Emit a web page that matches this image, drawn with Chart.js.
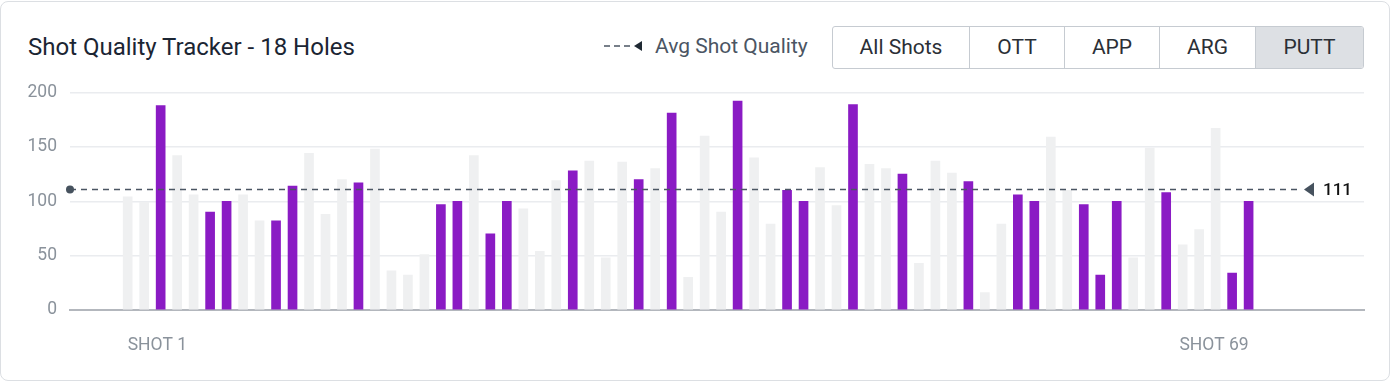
<!DOCTYPE html>
<html lang="en">
<head>
  <meta charset="utf-8">
  <title>Shot Quality Tracker</title>
  <style type="text/css">
    html, body {
      margin: 0;
      padding: 0;
      background: #ffffff;
      font-family: 'Roboto', 'Noto Sans', sans-serif;
    }
    .card {
      position: absolute;
      left: 0;
      top: 1px;
      width: 1388px;
      height: 378px;
      border: 1px solid #dcdfe3;
      border-radius: 8px;
      overflow: hidden;
    }
    .title {
      position: absolute;
      left: 27px;
      top: 30px;
      font-size: 24px;
      color: #1b2533;
      line-height: 30px;
    }
    .legend {
      position: absolute;
      left: 602px;
      top: 30px;
      font-size: 21px;
      color: #4b5563;
      line-height: 28px;
    }
    .legend svg {
      vertical-align: middle;
      margin-right: 13px;
      margin-top: -3px;
    }
    .btns {
      position: absolute;
      left: 831px;
      top: 24px;
      display: flex;
      border: 1px solid #c6cbd1;
      border-radius: 3px;
      overflow: hidden;
    }
    .btns div {
      height: 41px;
      line-height: 41px;
      text-align: center;
      font-size: 21px;
      color: #2b2f36;
      border-left: 1px solid #c6cbd1;
    }
    .btns div:first-child { border-left: none; }
    .btns div.active { background: #dde0e4; }
    .chartbox {
      position: absolute;
      left: -1px;
      top: 67px;
      width: 1390px;
      height: 312px;
    }
  </style>
  <script src="https://cdn.jsdelivr.net/npm/chart.js@4.4.1/dist/chart.umd.min.js"></script>
</head>
<body>
  <div class="card">
    <div class="title">Shot Quality Tracker - 18 Holes</div>
    <div class="legend"><svg width="39" height="12" viewBox="0 0 39 12"><line x1="1" y1="6" x2="31" y2="6" stroke="#4b5563" stroke-width="1.5" stroke-dasharray="6,4"/><polygon points="31,6 39,1 39,11" fill="#1f2933"/></svg>Avg Shot Quality</div>
    <div class="btns">
      <div style="width:136px;">All Shots</div>
      <div style="width:94px;">OTT</div>
      <div style="width:94px;">APP</div>
      <div style="width:95px;">ARG</div>
      <div style="width:107px;" class="active">PUTT</div>
    </div>
    <div class="chartbox"><canvas id="graph"></canvas></div>
  </div>
  <script>
    // shot numbers 1..69
    var shots = [];
    for (var s = 1; s <= 69; s++) shots.push(s);
    var quality = [104, 99, 188, 142, 106, 90, 100, 106, 82, 82,
                   114, 144, 88, 120, 117, 148, 36, 32, 51, 97,
                   100, 142, 70, 100, 93, 54, 119, 128, 137, 48,
                   136, 120, 130, 181, 30, 160, 90, 192, 140, 79,
                   110, 100, 131, 96, 189, 134, 130, 125, 43, 137,
                   126, 118, 16, 79, 106, 100, 159, 110, 97, 32,
                   100, 48, 149, 108, 60, 74, 167, 34, 100];
    // 1 = putt (highlighted), 0 = other shot
    var isPutt = [0, 0, 1, 0, 0, 1, 1, 0, 0, 1,
                  1, 0, 0, 0, 1, 0, 0, 0, 0, 1,
                  1, 0, 1, 1, 0, 0, 0, 1, 0, 0,
                  0, 1, 0, 1, 0, 0, 0, 1, 0, 0,
                  1, 1, 0, 0, 1, 0, 0, 1, 0, 0,
                  0, 1, 0, 0, 1, 1, 0, 0, 1, 1,
                  1, 0, 0, 1, 0, 0, 0, 1, 1];
    var avgQuality = 111;
    var yTicks = [0, 50, 100, 150, 200];
    var xTickLabels = ['SHOT 1', 'SHOT 69'];

    var points = shots.map(function (x, i) { return {x: x, y: quality[i]}; });
    var colors = isPutt.map(function (p) { return p ? '#8a1bc4' : '#eff0f1'; });

    var avgLinePlugin = {
      id: 'avgLine',
      afterDatasetsDraw: function (chart) {
        var ctx = chart.ctx;
        var area = chart.chartArea;
        var y = Math.round(chart.scales.y.getPixelForValue(avgQuality)) + 0.5;
        var tipX = area.right - 60;
        ctx.save();
        ctx.strokeStyle = '#4b5663';
        ctx.lineWidth = 1.5;
        ctx.setLineDash([6, 5]);
        ctx.beginPath();
        ctx.moveTo(area.left, y);
        ctx.lineTo(tipX - 4, y);
        ctx.stroke();
        ctx.setLineDash([]);
        ctx.fillStyle = '#46525e';
        ctx.beginPath();
        ctx.arc(area.left, y, 4, 0, Math.PI * 2);
        ctx.fill();
        ctx.beginPath();
        ctx.moveTo(tipX, y);
        ctx.lineTo(tipX + 10, y - 7);
        ctx.lineTo(tipX + 10, y + 7);
        ctx.closePath();
        ctx.fill();
        ctx.fillStyle = '#111111';
        ctx.font = '500 17px Roboto';
        ctx.textAlign = 'left';
        ctx.textBaseline = 'middle';
        ctx.fillText(String(avgQuality), tipX + 19, y + 1);
        ctx.restore();
      }
    };

    var shotLabelPlugin = {
      id: 'shotLabels',
      afterDraw: function (chart) {
        var ctx = chart.ctx;
        var xs = chart.scales.x;
        var y = chart.chartArea.bottom + 36;
        ctx.save();
        ctx.fillStyle = '#8a929b';
        ctx.font = '17.5px Roboto';
        ctx.textBaseline = 'middle';
        ctx.textAlign = 'left';
        ctx.fillText(xTickLabels[0], xs.getPixelForValue(shots[0]), y);
        ctx.textAlign = 'right';
        ctx.fillText(xTickLabels[1], xs.getPixelForValue(shots[shots.length - 1]), y);
        ctx.restore();
      }
    };

    var ctx = document.getElementById('graph').getContext('2d');
    window.myChart = new Chart(ctx, {
      type: 'bar',
      data: {
        datasets: [{
          data: points,
          backgroundColor: colors,
          borderWidth: 0,
          barThickness: 9
        }]
      },
      options: {
        responsive: true,
        maintainAspectRatio: false,
        animation: false,
        layout: { padding: { top: 0, right: 26, bottom: 0, left: 0 } },
        plugins: {
          legend: { display: false },
          tooltip: { enabled: false }
        },
        scales: {
          x: {
            type: 'linear',
            offset: false,
            min: -2.5,
            max: 76,
            grid: { display: false },
            border: { display: true, color: '#b3b7bd', width: 2 },
            ticks: { display: false },
            afterFit: function (scale) { scale.height = 71; }
          },
          y: {
            min: 0,
            max: 200,
            afterBuildTicks: function (scale) {
              scale.ticks = yTicks.map(function (v) { return {value: v}; });
            },
            grid: { color: '#eaecef', lineWidth: 1.5, drawTicks: false },
            border: { display: false },
            ticks: {
              color: '#8a929b',
              font: { family: 'Roboto', size: 17.5 },
              padding: 13
            },
            afterFit: function (scale) { scale.width = 70; }
          }
        }
      },
      plugins: [avgLinePlugin, shotLabelPlugin]
    });
  </script>
</body>
</html>
